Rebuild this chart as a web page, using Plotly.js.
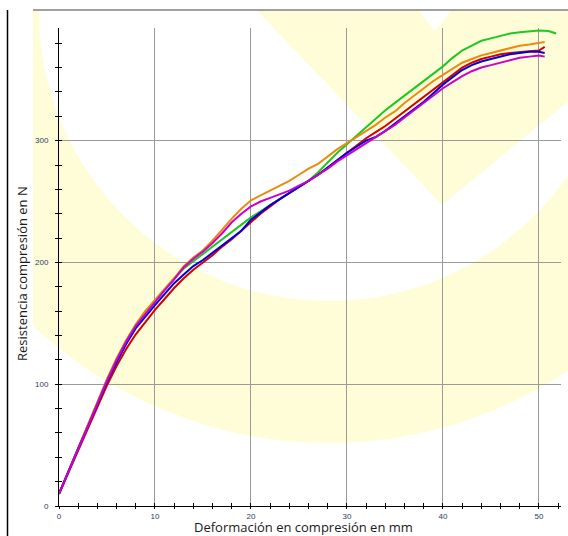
<!DOCTYPE html>
<html><head><meta charset="utf-8">
<script src="https://cdn.plot.ly/plotly-3.0.1.min.js"></script>
<style>html,body{margin:0;padding:0;background:#fff}#chart{width:568px;height:536px}</style>
</head><body><div id="chart"></div>
<script>
// ---- data (mm, N) ----
const deformacion = [0,1,2,3,4,5,6,7,8,9,10,11,12,13,14,15,16,17,18,19,20,21,22,23,24,25,26,27,28,29,30,31,32,33,34,35,36,37,38,39,40,41,42,43,44,45,46,47,48,49,50];

const verde   = [10,29,48,66,85,104,121,136,149,160,169,178,187,195,201,207,213,219,225,231,237,242,247,252,257,262,267,274,282,290,297,304,311,318,325,331,337,343,349,355,361,368,374,378,382,384,386,388,389,390,390.5];
const verdeFinX = [51, 51.8];
const verdeFinY = [390, 388];

const naranja = [10,29,48,66,85,104,121,136,149,160,169,178,187,197,204,210,218,227,236,244,251,255,259,263,267,272,277,281,287,293,298,303,308,313,319,324,331,337,343,349,354,359,364,367,370,372,374,376,378,379,380];
const naranjaFinX = [50.6];
const naranjaFinY = [381];

const rojo    = [10,28,46,64,81,99,115,129,141,151,161,170,179,187,194,200,206,213,219,226,233,240,246,252,257,262,267,272,278,284,290,296,302,307,312,318,324,330,336,342,348,354,360,364,367,369,371,372,373,373.5,374];
const rojoFinX = [50.6];
const rojoFinY = [377];

const azul    = [10,29,47,65,83,102,118,133,146,156,165,174,183,190,197,202,208,214,220,226,235,241,247,252,257,262,267,272,278,284,290,295,300,303,308,314,320,326,332,339,346,352,358,362,365,367,369,371,372,373,373];
const azulFinX = [50.6];
const azulFinY = [372];

const magenta = [10,29,47,65,84,103,120,135,148,158,167,177,186,196,203,209,216,224,233,240,246,250,253,256,259,263,267,272,277,283,288,293,298,303,308,313,319,325,331,337,343,348,353,357,360,362,364,366,368,369,370];
const magentaFinX = [50.6];
const magentaFinY = [369];

const tituloX = 'Deformación en compresión en mm';
const tituloY = 'Resistencia compresión en N';

// ---- geometry helpers for decoration (figure pixels -> paper) ----
const W = 568, H = 536, ML = 59, MR = 7, MT = 28, MB = 30;
const PW = W - ML - MR, PH = H - MT - MB;
const px = v => (v - ML) / PW;
const py = v => (H - MB - v) / PH;
const pathFrom = pts => 'M ' + pts.map(p => px(p[0]).toFixed(4) + ',' + py(p[1]).toFixed(4)).join(' L ') + ' Z';

const amarillo = '#FFFDD8';
const cx = 329, cy = 11, rOut = 432, rIn = 290;

const shapes = [
  {type:'circle', xref:'paper', yref:'paper', layer:'below',
   x0:px(cx-rOut), x1:px(cx+rOut), y0:py(cy+rOut), y1:py(cy-rOut), fillcolor:amarillo, line:{width:0}},
  {type:'circle', xref:'paper', yref:'paper', layer:'below',
   x0:px(cx-rIn), x1:px(cx+rIn), y0:py(cy+rIn), y1:py(cy-rIn), fillcolor:'#ffffff', line:{width:0}},
  {type:'path', xref:'paper', yref:'paper', layer:'below',
   path:pathFrom([[250,3],[442,205],[692,0],[460,0],[435,31],[410,0],[253,0]]), fillcolor:amarillo, line:{width:0}},
  {type:'rect', xref:'paper', yref:'paper', layer:'below',
   x0:px(-5), x1:px(33), y0:py(H+5), y1:py(-5), fillcolor:'#ffffff', line:{width:0}},
  {type:'rect', xref:'paper', yref:'paper', layer:'below',
   x0:px(-5), x1:px(W+5), y0:py(10), y1:py(-5), fillcolor:'#ffffff', line:{width:0}},
  {type:'line', xref:'paper', yref:'paper', layer:'below',
   x0:px(33), x1:px(W), y0:py(10), y1:py(10), line:{color:'#808080', width:1.5}},
  {type:'line', xref:'paper', yref:'paper', layer:'below',
   x0:px(7.5), x1:px(7.5), y0:py(10), y1:py(H), line:{color:'#000000', width:1.5}}
];

const serie = (x, y, color) => ({
  x: x, y: y, type:'scatter', mode:'lines', hoverinfo:'skip', showlegend:false,
  line:{color:color, width:2}
});

const data = [
  serie(deformacion.concat(verdeFinX), verde.concat(verdeFinY), '#1ec81e'),
  serie(deformacion.concat(naranjaFinX), naranja.concat(naranjaFinY), '#ea8a10'),
  serie(deformacion.concat(rojoFinX), rojo.concat(rojoFinY), '#d40000'),
  serie(deformacion.concat(azulFinX), azul.concat(azulFinY), '#0000d8'),
  serie(deformacion.concat(magentaFinX), magenta.concat(magentaFinY), '#cc00cc'),
  {x:[null], y:[null], xaxis:'x2', yaxis:'y2', type:'scatter', mode:'lines', hoverinfo:'skip', showlegend:false}
];

const tickFont = {family:'Liberation Sans, Arial, sans-serif', size:8, color:'#2b3a67'};
const common = {
  showline:true, linecolor:'#000', linewidth:1, ticks:'outside', tickwidth:1, tickcolor:'#000',
  showgrid:true, gridcolor:'#9a9a9a', gridwidth:1, zeroline:false, tickfont:tickFont, fixedrange:true
};

const layout = {
  width:W, height:H, margin:{l:ML, r:MR, t:MT, b:MB, pad:0},
  paper_bgcolor:'#ffffff', plot_bgcolor:'rgba(0,0,0,0)',
  showlegend:false,
  xaxis: Object.assign({}, common, {range:[0,52.3], tick0:0, dtick:10, ticklen:2, ticklabelstandoff:0,
    minor:{dtick:2, ticks:'outside', ticklen:2, tickcolor:'#000', showgrid:false}}),
  yaxis: Object.assign({}, common, {range:[0,392.5], tick0:0, dtick:100, ticklen:3, ticklabelstandoff:5,
    minor:{dtick:20, ticks:'outside', ticklen:3, tickcolor:'#000', showgrid:false}}),
  xaxis2: {overlaying:'x', anchor:'y', side:'bottom', range:[0,52.3], tick0:0, dtick:2, ticks:'inside', ticklen:3,
    tickcolor:'#000', showticklabels:false, showgrid:false, showline:false, zeroline:false, fixedrange:true},
  yaxis2: {overlaying:'y', anchor:'x', side:'left', range:[0,392.5], tick0:0, dtick:20, ticks:'inside', ticklen:3,
    tickcolor:'#000', showticklabels:false, showgrid:false, showline:false, zeroline:false, fixedrange:true},
  shapes: shapes,
  annotations: [
    {text:tituloX, xref:'paper', yref:'paper', x:px(303), y:py(527), xanchor:'center', yanchor:'middle',
     showarrow:false, borderpad:0, font:{family:'Open Sans, sans-serif', size:13, color:'#1a1a1a'}},
    {text:tituloY, xref:'paper', yref:'paper', x:px(22), y:py(274), xanchor:'center', yanchor:'middle',
     textangle:-90, showarrow:false, font:{family:'Open Sans, sans-serif', size:13, color:'#1a1a1a'}}
  ]
};

Plotly.newPlot('chart', data, layout, {displayModeBar:false, staticPlot:true});
</script>
</body></html>
